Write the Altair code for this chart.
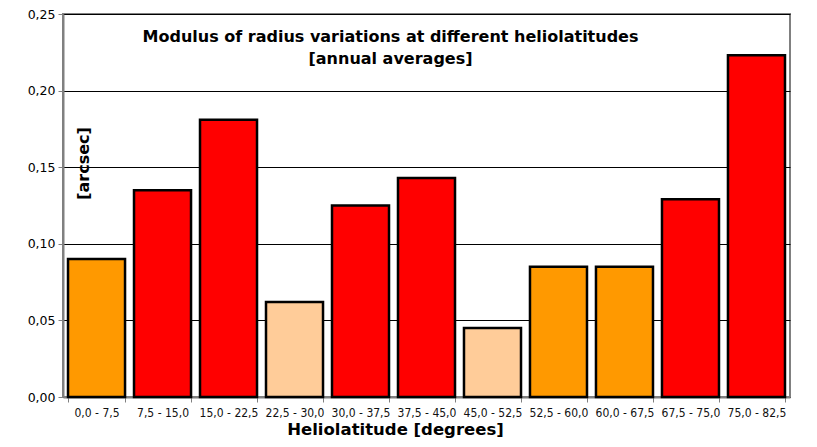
import altair as alt
import pandas as pd

categories = ["0,0 - 7,5", "7,5 - 15,0", "15,0 - 22,5", "22,5 - 30,0", "30,0 - 37,5",
              "37,5 - 45,0", "45,0 - 52,5", "52,5 - 60,0", "60,0 - 67,5", "67,5 - 75,0",
              "75,0 - 82,5"]
values = [0.090, 0.135, 0.181, 0.062, 0.125, 0.143, 0.045, 0.085, 0.085, 0.129, 0.223]
colors = ["#FF9900", "#FF0000", "#FF0000", "#FFCC99", "#FF0000", "#FF0000",
          "#FFCC99", "#FF9900", "#FF9900", "#FF0000", "#FF0000"]

df = pd.DataFrame({"lat": categories, "val": values, "col": colors})

bars = alt.Chart(df).mark_bar(stroke="black", strokeWidth=2.5).encode(
    x=alt.X("lat:N", sort=categories,
            scale=alt.Scale(paddingInner=0.136, paddingOuter=0.076),
            axis=alt.Axis(title="Heliolatitude [degrees]", labelAngle=0,
                          labelFont="DejaVu Sans Condensed, Liberation Sans", labelFontSize=12,
                          labelColor="#111111", labelPadding=5,
                          tickBand="extent", tickColor="#808080", tickSize=5,
                          domainColor="#808080", domainWidth=2,
                          titleFont="DejaVu Sans", titleFontSize=16.5,
                          titleFontWeight="bold", titleColor="black",
                          titleX=332, titleY=37, titleBaseline="alphabetic",
                          titleAnchor="start", titleAlign="center")),
    y=alt.Y("val:Q", scale=alt.Scale(domain=[0, 0.25], nice=False),
            axis=alt.Axis(title="[arcsec]", values=[0, 0.05, 0.10, 0.15, 0.20, 0.25],
                          labelExpr="replace(format(datum.value, '.2f'), '.', ',')",
                          labelFont="DejaVu Sans", labelFontSize=12.5,
                          labelColor="black", labelPadding=3,
                          tickColor="#808080", tickSize=5,
                          domainColor="#808080", domainWidth=2,
                          gridColor="black", gridWidth=1,
                          titleFont="DejaVu Sans", titleFontSize=16,
                          titleFontWeight="bold", titleColor="black",
                          titleX=20, titleY=149, titleAngle=270,
                          titleBaseline="middle", titleAlign="center")),
    color=alt.Color("col:N", scale=None),
)

chart = bars.properties(
    width=727, height=383,
    autosize=alt.AutoSizeParams(type="none"),
    padding={"left": 55, "top": 6, "right": 10, "bottom": 42},
    background="white",
    title=alt.TitleParams(
        ["Modulus of radius variations at different heliolatitudes", "[annual averages]"],
        font="DejaVu Sans", fontSize=16, fontWeight="bold", color="black",
        anchor="middle", frame="group", orient="top", offset=0,
        dx=-36, dy=72, lineHeight=22, baseline="alphabetic"),
).configure_view(stroke="#808080", strokeWidth=2)

chart.save("out.html", embed_options={"renderer": "svg", "actions": False})
